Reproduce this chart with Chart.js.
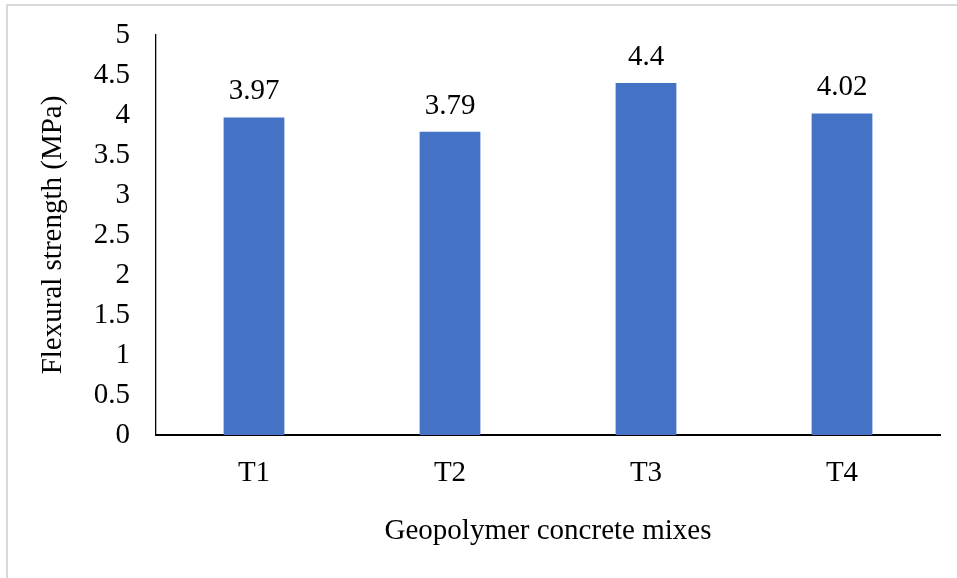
<!DOCTYPE html>
<html>
<head>
<meta charset="utf-8">
<script src="https://cdn.jsdelivr.net/npm/chart.js@4/dist/chart.umd.min.js"></script>
<style>
  html, body { margin: 0; padding: 0; background: #fff; overflow: hidden; }
  #frame { position: absolute; left: 6px; top: 4px; width: 1000px; height: 1000px; border: 2px solid #d9d9d9; box-sizing: border-box; }
  #wrap { position: absolute; left: 0; top: 0; width: 957px; height: 578px; }
</style>
</head>
<body>
<div id="frame"></div>
<div id="wrap"><canvas id="chart" width="957" height="578"></canvas></div>
<script>
// Flexural strength of the geopolymer concrete mixes
const mixes = ['T1', 'T2', 'T3', 'T4'];
const flexuralStrength = [3.97, 3.79, 4.4, 4.02];
const yTickStep = 0.5;
const yMin = 0;
const yMax = 5;

const FONT = "'Liberation Serif', 'Times New Roman', serif";
const FONT_SIZE = 29;

// Writes each bar's value just above it
const valueLabels = {
  id: 'valueLabels',
  afterDatasetsDraw(chart) {
    const ctx = chart.ctx;
    ctx.save();
    ctx.font = FONT_SIZE + 'px ' + FONT;
    ctx.fillStyle = '#000';
    ctx.textAlign = 'center';
    ctx.textBaseline = 'alphabetic';
    chart.getDatasetMeta(0).data.forEach((bar, i) => {
      ctx.fillText(String(flexuralStrength[i]), bar.x, bar.y - 18);
    });
    ctx.restore();
  }
};

new Chart(document.getElementById('chart'), {
  type: 'bar',
  data: {
    labels: mixes,
    datasets: [{
      data: flexuralStrength,
      backgroundColor: '#4472C4',
      borderWidth: 0,
      categoryPercentage: 1,
      barPercentage: 0.31
    }]
  },
  options: {
    responsive: false,
    animation: false,
    devicePixelRatio: 1,
    layout: { padding: { left: 0, top: 35, right: 17, bottom: 0 } },
    plugins: { legend: { display: false }, tooltip: { enabled: false } },
    scales: {
      x: {
        grid: { display: false, drawTicks: false },
        border: { display: true, color: '#000', width: 2 },
        ticks: { color: '#000', font: { family: FONT, size: FONT_SIZE }, padding: 21 },
        title: {
          display: true,
          text: 'Geopolymer concrete mixes',
          color: '#000',
          font: { family: FONT, size: FONT_SIZE },
          padding: { top: 0, bottom: 29 }
        },
        afterFit(scale) {
          scale.height = 143;
          scale.paddingLeft = 0;
          scale.paddingRight = 0;
        }
      },
      y: {
        min: yMin,
        max: yMax,
        grid: { display: false, drawTicks: false },
        border: { display: true, color: '#000', width: 1.3 },
        ticks: {
          stepSize: yTickStep,
          color: '#000',
          font: { family: FONT, size: FONT_SIZE },
          padding: 26,
          callback: (v) => String(v)
        },
        title: {
          display: true,
          text: 'Flexural strength (MPa)',
          color: '#000',
          font: { family: FONT, size: FONT_SIZE },
          padding: { top: 36, bottom: 0 }
        },
        afterFit(scale) {
          scale.width = 156;
          scale.paddingTop = 0;
          scale.paddingBottom = 0;
        }
      }
    }
  },
  plugins: [valueLabels]
});
</script>
</body>
</html>
